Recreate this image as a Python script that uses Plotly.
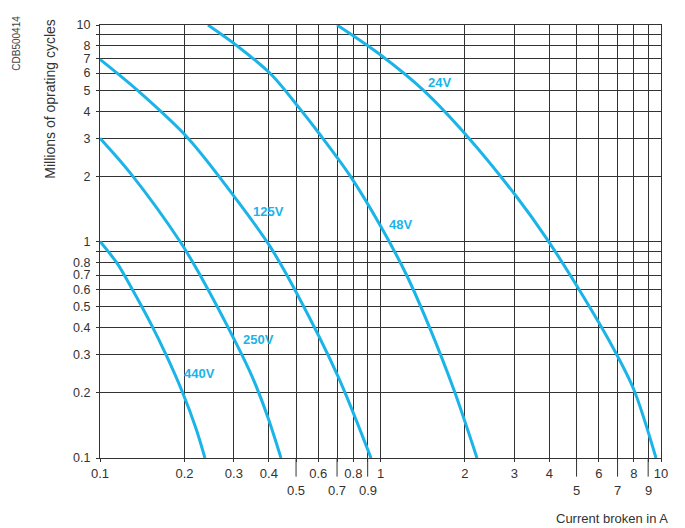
import math
import plotly.graph_objects as go

# current broken (A) / millions of operating cycles
v24_x = [0.700, 0.996, 1.418, 2.051, 3.066, 3.890, 5.059, 6.744, 8.012, 9.598]
v24_y = [10, 7.305, 5.012, 3.032, 1.601, 1.043, 0.611, 0.323, 0.206, 0.1]
v48_x = [0.2427, 0.3078, 0.407, 0.5122, 0.6035, 0.7785, 1.004, 1.243, 1.489, 1.828, 2.208]
v48_y = [10, 8.025, 5.926, 4.152, 3.162, 2.016, 1.170, 0.693, 0.4065, 0.206, 0.1]
v125_x = [0.1, 0.1355, 0.206, 0.3078, 0.4037, 0.5038, 0.7055, 0.925]
v125_y = [6.934, 5.012, 3.0, 1.552, 0.949, 0.574, 0.2384, 0.1]
v250_x = [0.1, 0.1279, 0.1929, 0.2273, 0.3078, 0.3483, 0.3972, 0.4419]
v250_y = [3.0, 2.081, 1.0, 0.7006, 0.3333, 0.2384, 0.1536, 0.1]
v440_x = [0.1, 0.115, 0.130, 0.1508, 0.1719, 0.196, 0.2199, 0.2367]
v440_y = [1.0, 0.794, 0.605, 0.424, 0.300, 0.2038, 0.1369, 0.1]

curve_labels = ["24V", "48V", "125V", "250V", "440V"]
label_x = [1.617, 1.174, 0.400, 0.366, 0.2255]
label_y = [5.45, 1.195, 1.383, 0.351, 0.246]

x_ticks = [0.1, 0.2, 0.3, 0.4, 0.5, 0.6, 0.7, 0.8, 0.9, 1, 2, 3, 4, 5, 6, 7, 8, 9, 10]
x_row1 = ["0.1", "0.2", "0.3", "0.4", "", "0.6", "", "0.8", "", "1", "2", "3", "4", "", "6", "", "8", "", "10"]
x_row2_vals = [0.5, 0.7, 0.9, 5, 7, 9]
x_row2_text = ["0.5", "0.7", "0.9", "5", "7", "9"]
y_ticks = [0.1, 0.2, 0.3, 0.4, 0.5, 0.6, 0.7, 0.8, 0.9, 1, 2, 3, 4, 5, 6, 7, 8, 9, 10]
y_text = ["0.1", "0.2", "0.3", "0.4", "0.5", "0.6", "0.7", "0.8", "", "1", "2", "3", "4", "5", "6", "7", "8", "", "10"]

cyan = "#1ab4e8"
font = "Liberation Sans, Arial, sans-serif"

fig = go.Figure()
for xs, ys, nm in [(v24_x, v24_y, "24V"), (v48_x, v48_y, "48V"), (v125_x, v125_y, "125V"),
                   (v250_x, v250_y, "250V"), (v440_x, v440_y, "440V")]:
    fig.add_trace(go.Scatter(x=xs, y=ys, mode="lines", name=nm,
                             line=dict(color=cyan, width=3, shape="spline", smoothing=0.9),
                             showlegend=False, hoverinfo="skip"))

for t, lx, ly in zip(curve_labels, label_x, label_y):
    fig.add_annotation(x=math.log10(lx), y=math.log10(ly), text="<b>" + t + "</b>", showarrow=False,
                       xanchor="center", yanchor="middle",
                       font=dict(color=cyan, size=13, family=font))

# second row of x tick labels, with long ticks
for v, t in zip(x_row2_vals, x_row2_text):
    fig.add_annotation(x=math.log10(v), y=-0.075, yref="paper", text=t, showarrow=False,
                       xanchor="center", yanchor="middle",
                       font=dict(color="#333", size=13, family=font))
    fig.add_shape(type="line", x0=v, x1=v, y0=0, y1=-0.043, xref="x", yref="paper",
                  line=dict(color="#333", width=1))

fig.add_annotation(x=-0.089, y=0.83, xref="paper", yref="paper", text="Millions of oprating cycles",
                   textangle=-90, showarrow=False, xanchor="center", yanchor="middle",
                   font=dict(color="#333", size=14, family=font))
fig.add_annotation(x=-0.148, y=0.959, xref="paper", yref="paper", text="CDB500414",
                   textangle=-90, showarrow=False, xanchor="center", yanchor="middle",
                   font=dict(color="#444", size=10, family=font))
fig.add_annotation(x=1.016, y=-0.139, xref="paper", yref="paper", text="Current broken in A",
                   xanchor="right", yanchor="middle", showarrow=False,
                   font=dict(color="#333", size=13, family=font))

fig.update_xaxes(type="log", range=[-1, 1], tickvals=x_ticks, ticktext=x_row1,
                 showgrid=True, gridcolor="#333", gridwidth=1,
                 showline=True, linecolor="#333", linewidth=1, mirror=True,
                 ticks="outside", ticklen=3, tickcolor="#333",
                 tickfont=dict(color="#333", size=13, family=font))
fig.update_yaxes(type="log", range=[-1, 1], tickvals=y_ticks, ticktext=y_text,
                 showgrid=True, gridcolor="#333", gridwidth=1,
                 showline=True, linecolor="#333", linewidth=1, mirror=True,
                 ticks="outside", ticklen=3, tickcolor="#333", ticklabelstandoff=3,
                 tickfont=dict(color="#333", size=12.5, family=font))

# page body adds an 8px offset, so the figure is 8px smaller on each side
fig.update_layout(width=677, height=520, margin=dict(l=92, r=24, t=10, b=70),
                  plot_bgcolor="white", paper_bgcolor="white")

fig.write_html("out.html")
